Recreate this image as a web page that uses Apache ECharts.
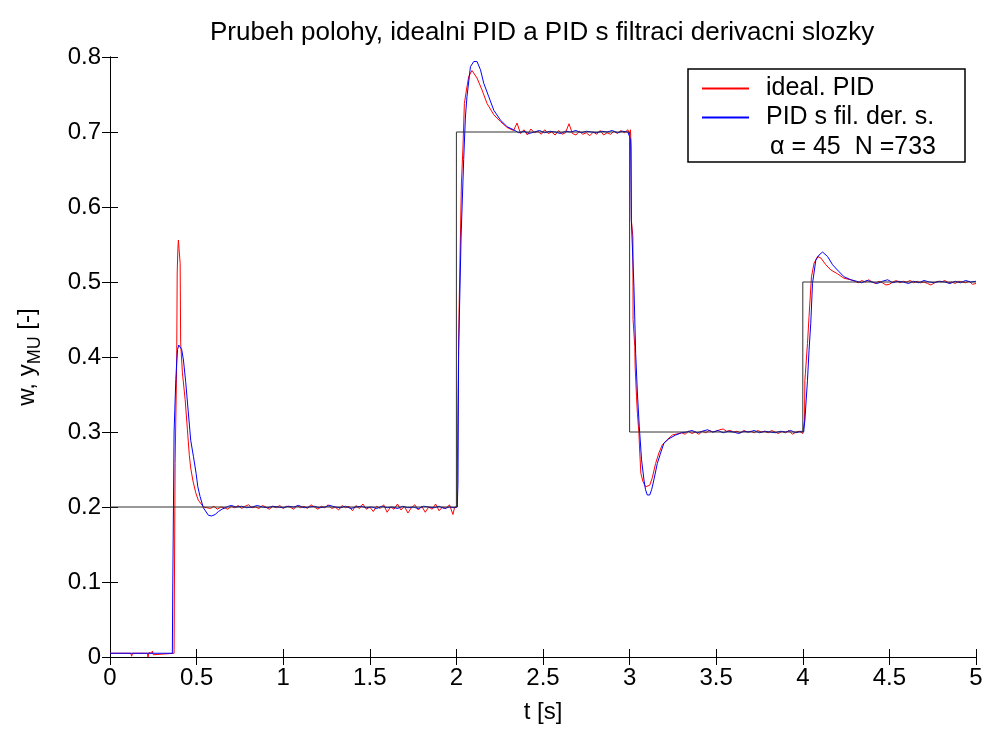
<!DOCTYPE html>
<html>
<head>
<meta charset="utf-8">
<script src="https://cdn.jsdelivr.net/npm/echarts@6/dist/echarts.min.js"></script>
<style>
  html, body { margin: 0; padding: 0; background: #fff; }
  #chart { width: 986px; height: 729px; }
</style>
</head>
<body>
<div id="chart"></div>
<script>
// setpoint w
const setpoint = [[0, 0.2], [2, 0.2], [2, 0.7], [3, 0.7], [3, 0.3], [4, 0.3], [4, 0.5], [5, 0.5]];

// ideal PID response [t, y]
const idealPid = [
    [0, 0.005], [0.1, 0.005], [0.12, 0.005], [0.125, 0.001], [0.13, 0.005], [0.2, 0.005], [0.215, 0.005],
    [0.22, 0.0], [0.225, 0.006], [0.24, 0.005], [0.245, 0.008], [0.25, 0.003], [0.26, 0.005], [0.37, 0.005],
    [0.372, 0.1], [0.376, 0.258], [0.385, 0.392], [0.388, 0.512], [0.392, 0.545], [0.395, 0.556], [0.4, 0.54],
    [0.405, 0.525], [0.408, 0.419], [0.418, 0.379], [0.434, 0.343], [0.447, 0.303], [0.458, 0.269],
    [0.466, 0.252], [0.478, 0.236], [0.495, 0.219], [0.51, 0.209], [0.54, 0.2],
    [0.56, 0.199], [0.58, 0.198], [0.6, 0.201], [0.62, 0.197], [0.64, 0.2], [0.66, 0.199], [0.68, 0.197],
    [0.70, 0.201], [0.72, 0.199], [0.74, 0.202], [0.76, 0.198], [0.78, 0.201], [0.80, 0.203], [0.82, 0.199],
    [0.84, 0.2], [0.86, 0.198], [0.88, 0.202], [0.90, 0.2], [0.92, 0.197], [0.94, 0.201], [0.96, 0.199],
    [0.98, 0.202], [1.0, 0.198], [1.02, 0.201], [1.04, 0.2], [1.06, 0.197], [1.08, 0.202], [1.10, 0.199],
    [1.12, 0.201], [1.14, 0.198], [1.16, 0.203], [1.18, 0.2], [1.20, 0.197], [1.22, 0.201], [1.24, 0.199],
    [1.26, 0.203], [1.28, 0.198], [1.30, 0.2], [1.32, 0.196], [1.34, 0.202], [1.36, 0.199], [1.38, 0.201],
    [1.40, 0.195], [1.42, 0.202], [1.44, 0.198], [1.46, 0.204], [1.48, 0.197], [1.50, 0.2], [1.52, 0.194],
    [1.54, 0.201], [1.56, 0.198], [1.58, 0.203], [1.60, 0.193], [1.62, 0.2], [1.64, 0.197], [1.66, 0.204],
    [1.68, 0.196], [1.70, 0.201], [1.72, 0.192], [1.74, 0.199], [1.76, 0.203], [1.78, 0.196], [1.80, 0.201],
    [1.82, 0.193], [1.84, 0.2], [1.86, 0.197], [1.88, 0.204], [1.90, 0.195], [1.92, 0.2], [1.94, 0.198],
    [1.96, 0.203], [1.98, 0.19], [1.99, 0.2], [2.0, 0.198],
    [2.004, 0.2], [2.008, 0.32], [2.015, 0.454], [2.023, 0.56], [2.029, 0.632], [2.038, 0.68], [2.046, 0.738],
    [2.058, 0.756], [2.071, 0.774], [2.09, 0.782], [2.1, 0.781], [2.119, 0.772], [2.148, 0.756],
    [2.177, 0.738], [2.216, 0.723], [2.254, 0.714], [2.293, 0.706], [2.33, 0.702],
    [2.35, 0.712], [2.37, 0.698], [2.39, 0.703], [2.41, 0.696], [2.43, 0.704], [2.45, 0.699], [2.47, 0.701],
    [2.49, 0.697], [2.51, 0.703], [2.53, 0.698], [2.55, 0.7], [2.57, 0.696], [2.59, 0.702], [2.61, 0.697],
    [2.63, 0.699], [2.65, 0.711], [2.67, 0.698], [2.69, 0.696], [2.71, 0.701], [2.73, 0.697], [2.75, 0.699],
    [2.77, 0.695], [2.79, 0.7], [2.81, 0.697], [2.83, 0.702], [2.85, 0.696], [2.87, 0.699], [2.89, 0.697],
    [2.91, 0.701], [2.93, 0.698], [2.95, 0.702], [2.97, 0.699], [2.99, 0.703], [3.0, 0.697],
    [3.005, 0.703], [3.009, 0.68], [3.01, 0.583], [3.019, 0.56], [3.02, 0.45], [3.03, 0.414], [3.032, 0.387],
    [3.04, 0.347], [3.045, 0.325], [3.054, 0.298], [3.058, 0.276], [3.065, 0.245], [3.077, 0.234],
    [3.092, 0.227], [3.102, 0.225], [3.116, 0.229], [3.131, 0.239], [3.15, 0.258], [3.169, 0.272],
    [3.189, 0.283], [3.218, 0.29], [3.247, 0.296], [3.285, 0.298],
    [3.30, 0.299], [3.32, 0.297], [3.34, 0.301], [3.36, 0.298], [3.38, 0.3], [3.40, 0.297], [3.42, 0.301],
    [3.44, 0.299], [3.46, 0.302], [3.48, 0.3], [3.50, 0.301], [3.52, 0.303], [3.54, 0.304], [3.56, 0.301],
    [3.58, 0.302], [3.60, 0.3], [3.62, 0.301], [3.64, 0.299], [3.66, 0.302], [3.68, 0.3], [3.70, 0.301],
    [3.72, 0.299], [3.74, 0.302], [3.76, 0.3], [3.78, 0.301], [3.80, 0.299], [3.82, 0.302], [3.84, 0.3],
    [3.86, 0.298], [3.88, 0.301], [3.90, 0.299], [3.92, 0.302], [3.94, 0.297], [3.96, 0.3], [3.98, 0.301],
    [4.0, 0.298],
    [4.005, 0.3], [4.01, 0.316], [4.012, 0.369], [4.015, 0.378], [4.027, 0.418], [4.036, 0.454], [4.05, 0.507],
    [4.065, 0.525], [4.085, 0.534], [4.104, 0.532], [4.133, 0.523], [4.162, 0.516], [4.2, 0.511],
    [4.238, 0.505], [4.277, 0.503],
    [4.30, 0.501], [4.32, 0.499], [4.34, 0.502], [4.36, 0.5], [4.38, 0.503], [4.40, 0.5], [4.42, 0.498],
    [4.44, 0.501], [4.46, 0.499], [4.48, 0.496], [4.50, 0.497], [4.52, 0.5], [4.54, 0.502], [4.56, 0.499],
    [4.58, 0.501], [4.60, 0.5], [4.62, 0.502], [4.64, 0.499], [4.66, 0.501], [4.68, 0.499], [4.70, 0.5],
    [4.72, 0.498], [4.74, 0.496], [4.76, 0.499], [4.78, 0.501], [4.80, 0.5], [4.82, 0.502], [4.84, 0.499],
    [4.86, 0.5], [4.88, 0.498], [4.90, 0.501], [4.92, 0.5], [4.94, 0.499], [4.96, 0.501], [4.98, 0.497],
    [5.0, 0.498]
];

// PID with filtered derivative [t, y]
const filteredPid = [
    [0, 0.005], [0.36, 0.005], [0.362, 0.08], [0.37, 0.3], [0.38, 0.37], [0.385, 0.392], [0.39, 0.41],
    [0.397, 0.416], [0.414, 0.41], [0.424, 0.396], [0.437, 0.367], [0.447, 0.34], [0.466, 0.289],
    [0.482, 0.267], [0.497, 0.245], [0.507, 0.227], [0.52, 0.214], [0.539, 0.199], [0.568, 0.189],
    [0.587, 0.188], [0.607, 0.19], [0.626, 0.194], [0.646, 0.197], [0.665, 0.199], [0.684, 0.201],
    [0.70, 0.202], [0.73, 0.2], [0.76, 0.201], [0.79, 0.199], [0.82, 0.2], [0.85, 0.202], [0.88, 0.2],
    [0.91, 0.199], [0.94, 0.201], [0.97, 0.2], [1.0, 0.199], [1.03, 0.201], [1.06, 0.2], [1.09, 0.202],
    [1.12, 0.199], [1.15, 0.2], [1.18, 0.201], [1.21, 0.199], [1.24, 0.2], [1.27, 0.202], [1.30, 0.2],
    [1.33, 0.199], [1.36, 0.201], [1.39, 0.198], [1.42, 0.2], [1.45, 0.201], [1.48, 0.199], [1.51, 0.2],
    [1.54, 0.198], [1.57, 0.201], [1.60, 0.199], [1.63, 0.2], [1.66, 0.198], [1.69, 0.201], [1.72, 0.199],
    [1.75, 0.2], [1.78, 0.198], [1.81, 0.201], [1.84, 0.2], [1.87, 0.199], [1.90, 0.201], [1.93, 0.198],
    [1.96, 0.2], [1.99, 0.199], [2.0, 0.2],
    [2.005, 0.2], [2.009, 0.232], [2.013, 0.41], [2.027, 0.56], [2.042, 0.663], [2.052, 0.72], [2.061, 0.747],
    [2.081, 0.787], [2.1, 0.794], [2.119, 0.794], [2.139, 0.783], [2.158, 0.765], [2.187, 0.747],
    [2.216, 0.729], [2.254, 0.716], [2.293, 0.707], [2.33, 0.703],
    [2.36, 0.699], [2.39, 0.701], [2.42, 0.698], [2.45, 0.7], [2.48, 0.702], [2.51, 0.699], [2.54, 0.701],
    [2.57, 0.7], [2.60, 0.698], [2.63, 0.701], [2.66, 0.7], [2.69, 0.702], [2.72, 0.699], [2.75, 0.701],
    [2.78, 0.7], [2.81, 0.699], [2.84, 0.701], [2.87, 0.7], [2.90, 0.702], [2.93, 0.699], [2.96, 0.701],
    [2.99, 0.7], [3.0, 0.701],
    [3.006, 0.69], [3.01, 0.583], [3.025, 0.494], [3.035, 0.405], [3.045, 0.352], [3.056, 0.307],
    [3.069, 0.263], [3.083, 0.236], [3.092, 0.223], [3.102, 0.216], [3.116, 0.216], [3.127, 0.223],
    [3.14, 0.236], [3.16, 0.258], [3.179, 0.272], [3.198, 0.285], [3.227, 0.291], [3.266, 0.296], [3.3, 0.299],
    [3.33, 0.3], [3.36, 0.302], [3.39, 0.299], [3.42, 0.301], [3.45, 0.303], [3.48, 0.3], [3.51, 0.302],
    [3.54, 0.299], [3.57, 0.301], [3.60, 0.3], [3.63, 0.298], [3.66, 0.301], [3.69, 0.3], [3.72, 0.302],
    [3.75, 0.299], [3.78, 0.301], [3.81, 0.3], [3.84, 0.299], [3.87, 0.301], [3.90, 0.3], [3.93, 0.302],
    [3.96, 0.299], [3.99, 0.301], [4.0, 0.3],
    [4.005, 0.3], [4.012, 0.316], [4.027, 0.369], [4.036, 0.409], [4.046, 0.445], [4.056, 0.498],
    [4.075, 0.529], [4.094, 0.536], [4.114, 0.54], [4.143, 0.534], [4.172, 0.523], [4.2, 0.516],
    [4.238, 0.507], [4.277, 0.503],
    [4.31, 0.501], [4.34, 0.499], [4.37, 0.502], [4.40, 0.5], [4.43, 0.498], [4.46, 0.501], [4.49, 0.503],
    [4.52, 0.499], [4.55, 0.501], [4.58, 0.5], [4.61, 0.498], [4.64, 0.501], [4.67, 0.499], [4.70, 0.502],
    [4.73, 0.5], [4.76, 0.499], [4.79, 0.501], [4.82, 0.5], [4.85, 0.498], [4.88, 0.501], [4.91, 0.499],
    [4.94, 0.502], [4.97, 0.5], [5.0, 0.501]
];

const seriesNames = ['ideal. PID', 'PID s fil. der. s.'];
const paramText = '\u03b1 = 45  N =733';

const font = "'Liberation Sans', Arial, sans-serif";

let chart = echarts.init(document.getElementById('chart'));

let tickCommon = {inside: true, length: 8, lineStyle: {color: '#000'}};
let lineCommon = {show: true, lineStyle: {color: '#000', width: 1}};

let option = {
    backgroundColor: '#fff',
    animation: false,
    textStyle: {fontFamily: font},
    title: {
        text: 'Prubeh polohy, idealni PID a PID s filtraci derivacni slozky',
        left: 205,
        top: 15,
        textStyle: {fontSize: 26, fontWeight: 'normal', color: '#000', fontFamily: font}
    },
    grid: {left: 110, right: 10, top: 57, bottom: 72},
    legend: {
        data: seriesNames,
        orient: 'vertical',
        left: 697,
        top: 71,
        z: 10,
        icon: 'rect',
        itemWidth: 47,
        itemHeight: 2,
        itemGap: 4,
        selectedMode: false,
        textStyle: {fontSize: 25, color: '#000', lineHeight: 24, padding: [0, 0, 0, 12], fontFamily: font}
    },
    graphic: [
        {
            type: 'rect',
            z: 5,
            shape: {x: 688, y: 69, width: 277, height: 93},
            style: {fill: '#fff', stroke: '#000', lineWidth: 1.5}
        },
        {
            type: 'text',
            z: 11,
            x: 770,
            y: 135,
            style: {text: paramText, fontSize: 25, fill: '#000', fontFamily: font}
        }
    ],
    xAxis: [
        {
            type: 'value',
            min: 0,
            max: 5,
            interval: 0.5,
            name: 't [s]',
            nameLocation: 'middle',
            nameGap: 43,
            nameTextStyle: {fontSize: 24, color: '#000'},
            axisLine: lineCommon,
            axisTick: tickCommon,
            axisLabel: {fontSize: 24, color: '#000', margin: 9},
            splitLine: {show: false}
        },
        {
            type: 'value',
            position: 'top',
            min: 0,
            max: 5,
            interval: 0.5,
            axisLine: lineCommon,
            axisTick: tickCommon,
            axisLabel: {show: false},
            splitLine: {show: false}
        }
    ],
    yAxis: [
        {
            type: 'value',
            min: 0,
            max: 0.8,
            interval: 0.1,
            name: 'w, y{sub|MU} [-]',
            nameLocation: 'middle',
            nameRotate: 90,
            nameGap: 66,
            nameTextStyle: {
                fontSize: 24,
                color: '#000',
                rich: {
                    sub: {fontSize: 18, color: '#000', padding: [16, 0, 0, 0]}
                }
            },
            axisLine: lineCommon,
            axisTick: tickCommon,
            axisLabel: {fontSize: 24, color: '#000', margin: 9},
            splitLine: {show: false}
        },
        {
            type: 'value',
            position: 'right',
            min: 0,
            max: 0.8,
            interval: 0.1,
            axisLine: lineCommon,
            axisTick: tickCommon,
            axisLabel: {show: false},
            splitLine: {show: false}
        }
    ],
    series: [
        {
            name: seriesNames[0],
            type: 'line',
            data: idealPid,
            showSymbol: false,
            color: '#ff0000',
            lineStyle: {width: 1, color: '#ff0000'}
        },
        {
            name: seriesNames[1],
            type: 'line',
            data: filteredPid,
            showSymbol: false,
            color: '#0000ff',
            lineStyle: {width: 1, color: '#0000ff'}
        },
        {
            name: 'w',
            type: 'line',
            data: setpoint,
            showSymbol: false,
            color: '#333',
            lineStyle: {width: 1, color: '#333'}
        }
    ]
};
chart.setOption(option);
</script>
</body>
</html>
